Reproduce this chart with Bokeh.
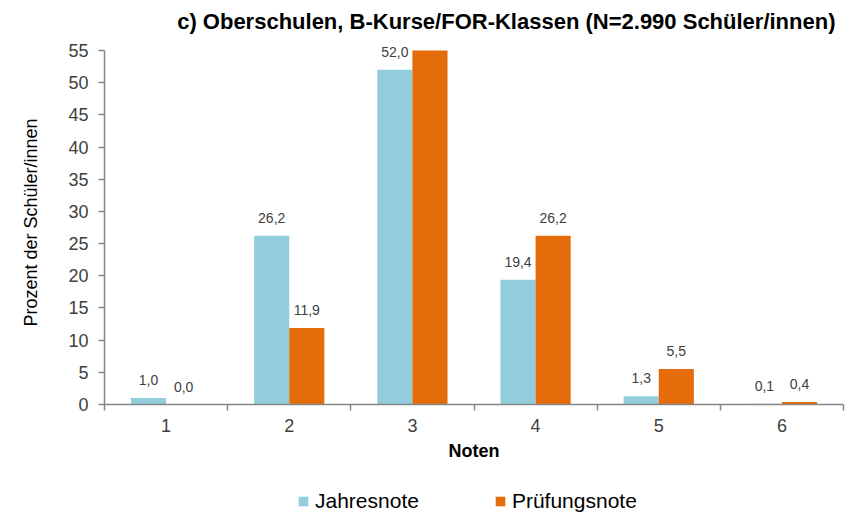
from bokeh.plotting import figure
from bokeh.layouts import column
from bokeh.models import ColumnDataSource, FixedTicker, Legend, LegendItem, Range1d, LabelSet
from bokeh.core.properties import value
from bokeh.embed import file_html
from bokeh.resources import INLINE

noten = [1, 2, 3, 4, 5, 6]
jahresnote = [1.0, 26.2, 52.0, 19.4, 1.3, 0.1]
pruefungsnote = [0.0, 11.9, 56.0, 26.2, 5.5, 0.4]
series_names = ["Jahresnote", "Prüfungsnote"]
title_text = "c) Oberschulen, B-Kurse/FOR-Klassen (N=2.990 Schüler/innen)"

FONT = "Liberation Sans"
BLUE = "#92CDDC"
ORANGE = "#E46C0A"
AX = "#868686"
TXT = "#404040"
YMAX = 55          # top of the value axis, as in the reference
Y_TOP = 56.55      # small headroom so the labels above the bars are not cut
BW = 0.285
W = 848

p = figure(width=W, height=470, output_backend="svg", toolbar_location=None,
           x_range=Range1d(0.5, 6.5), y_range=Range1d(0, Y_TOP),
           min_border_left=104, min_border_right=5, min_border_top=40, min_border_bottom=66,
           outline_line_color=None, title=title_text)
p.title.align = "right"
p.title.offset = 8
p.title.text_font = FONT
p.title.text_font_size = "22px"
p.title.text_font_style = "bold"
p.title.text_color = "#000000"
p.title.standoff = 13
p.xgrid.visible = False
p.ygrid.visible = False

def fmt(v):
    return f"{v:.1f}".replace(".", ",")

xs_j = [n - BW / 2 for n in noten]
xs_p = [n + BW / 2 for n in noten]
# bars are cut at the top of the value axis, as in the reference
src_j = ColumnDataSource(dict(x=xs_j, top=[min(v, YMAX) for v in jahresnote]))
src_p = ColumnDataSource(dict(x=xs_p, top=[min(v, YMAX) for v in pruefungsnote]))

r_j = p.vbar(x="x", top="top", width=BW, source=src_j, fill_color=BLUE, line_color=None)
r_p = p.vbar(x="x", top="top", width=BW, source=src_p, fill_color=ORANGE, line_color=None)

for xs, vals in ((xs_j, jahresnote), (xs_p, pruefungsnote)):
    keep = [i for i, v in enumerate(vals) if v < YMAX]
    s = ColumnDataSource(dict(x=[xs[i] for i in keep], y=[vals[i] for i in keep],
                              lab=[fmt(vals[i]) for i in keep]))
    p.add_layout(LabelSet(x="x", y="y", text="lab", source=s, text_align="center",
                          text_baseline="middle", y_offset=18, text_font=value(FONT),
                          text_font_size="14px", text_color=TXT))

# axes
p.yaxis.ticker = FixedTicker(ticks=list(range(0, YMAX + 5, 5)))
p.yaxis.bounds = (0, YMAX)
p.yaxis.axis_label = "Prozent der Schüler/innen"
p.xaxis.ticker = FixedTicker(ticks=noten, minor_ticks=[n + 0.5 for n in range(0, 7)])
p.xaxis.axis_label = "Noten"
for ax in (p.xaxis[0], p.yaxis[0]):
    ax.axis_line_color = AX
    ax.axis_line_width = 1.5
    ax.major_tick_line_color = AX
    ax.major_tick_line_width = 1.5
    ax.minor_tick_line_color = AX
    ax.minor_tick_line_width = 1.5
    ax.major_label_text_font = FONT
    ax.major_label_text_font_size = "18px"
    ax.major_label_text_color = TXT
    ax.axis_label_text_font = FONT
    ax.axis_label_text_color = "#000000"
p.yaxis.major_tick_in = 0
p.yaxis.major_tick_out = 6
p.yaxis.minor_tick_out = 0
p.yaxis.minor_tick_in = 0
p.yaxis.major_label_standoff = 10
p.yaxis.axis_label_text_font_style = "normal"
p.yaxis.axis_label_text_font_size = "18px"
p.yaxis.axis_label_standoff = 24
p.xaxis.major_tick_in = 0
p.xaxis.major_tick_out = 0
p.xaxis.minor_tick_in = 0
p.xaxis.minor_tick_out = 6
p.xaxis.major_label_standoff = 8
p.xaxis.axis_label_text_font_style = "bold"
p.xaxis.axis_label_text_font_size = "18px"
p.xaxis.axis_label_standoff = 6

# legend strip below the chart (same series data, out of this strip's view)
lg = figure(width=W, height=45, output_backend="svg", toolbar_location=None,
            x_range=Range1d(100, 101), y_range=Range1d(100, 101), outline_line_color=None,
            x_axis_location=None, y_axis_location=None,
            min_border_left=0, min_border_right=0, min_border_top=0, min_border_bottom=0)
lg.grid.visible = False
lr_j = lg.vbar(x="x", top="top", width=BW, source=src_j, fill_color=BLUE, line_color=None)
lr_p = lg.vbar(x="x", top="top", width=BW, source=src_p, fill_color=ORANGE, line_color=None)
legend = Legend(items=[LegendItem(label=series_names[0], renderers=[lr_j]),
                       LegendItem(label=series_names[1], renderers=[lr_p])],
                orientation="horizontal", location=(193, 2),
                label_text_font=FONT, label_text_font_size="21px", label_text_color="#000000",
                glyph_width=12, glyph_height=12, label_height=20, spacing=75, label_standoff=6,
                border_line_color=None, background_fill_alpha=0, margin=0, padding=0)
lg.add_layout(legend)

layout = column(p, lg, spacing=0)
open("out.html", "w").write(file_html(layout, INLINE))
